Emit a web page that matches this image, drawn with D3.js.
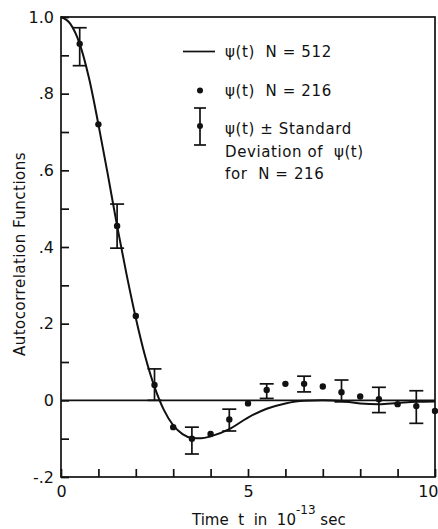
<!DOCTYPE html>
<html>
<head>
<meta charset="utf-8">
<script src="https://cdn.jsdelivr.net/npm/d3@7"></script>
<style>
  body { margin: 0; background: #fff; }
  svg text { font-family: 'DejaVu Sans', sans-serif; fill: #111; white-space: pre; }
</style>
</head>
<body>
<svg id="chart" width="438" height="529"></svg>
<script>
// psi(t) for N = 512 (solid curve)
let curveT = [0, 0.25, 0.5, 0.75, 1, 1.25, 1.5, 1.75, 2, 2.25, 2.5, 2.75, 3, 3.25, 3.5, 3.75, 4, 4.5, 5, 5.5, 6, 6.5, 7, 7.5, 8, 8.5, 9, 9.5, 10];
let curveV = [1.0, 0.982, 0.93, 0.84, 0.72, 0.59, 0.455, 0.33, 0.215, 0.115, 0.035, -0.025, -0.065, -0.088, -0.098, -0.099, -0.094, -0.075, -0.045, -0.022, -0.008, -0.001, 0, -0.002, -0.008, -0.01, -0.007, -0.004, -0.003];

// psi(t) for N = 216 (dots)
let dotT = [0.5, 1, 1.5, 2, 2.5, 3, 3.5, 4, 4.5, 5, 5.5, 6, 6.5, 7, 7.5, 8, 8.5, 9, 9.5, 10];
let dotV = [0.93, 0.72, 0.455, 0.22, 0.04, -0.07, -0.10, -0.088, -0.05, -0.008, 0.027, 0.043, 0.043, 0.036, 0.021, 0.01, 0.003, -0.01, -0.015, -0.028];

// standard deviation bars for N = 216
let errT = [0.5, 1.5, 2.5, 3.5, 4.5, 5.5, 6.5, 7.5, 8.5, 9.5];
let errLo = [0.873, 0.397, 0.0, -0.14, -0.08, 0.005, 0.022, -0.004, -0.032, -0.06];
let errHi = [0.972, 0.512, 0.082, -0.07, -0.023, 0.043, 0.063, 0.053, 0.034, 0.025];

let xTicks = d3.range(0, 11, 1);
let xLabels = {0: '0', 5: '5', 10: '10'};
let yTicks = d3.range(-2, 11, 1).map(d => d / 10);
let yLabels = {'-0.2': '-.2', '0': '0', '0.2': '.2', '0.4': '.4', '0.6': '.6', '0.8': '.8', '1': '1.0'};

let plotLeft = 61;
let plotRight = 435;
let plotTop = 17;
let plotBottom = 477;
let ink = '#111';

const svg = d3.select('#chart');

let x = d3.scaleLinear().domain([0, 10]).range([plotLeft, plotRight]);
let y = d3.scaleLinear().domain([-0.2, 1.0]).range([plotBottom, plotTop]);

// frame
svg.append('rect')
  .attr('x', plotLeft)
  .attr('y', plotTop)
  .attr('width', plotRight - plotLeft)
  .attr('height', plotBottom - plotTop)
  .attr('fill', 'none')
  .attr('stroke', ink)
  .attr('stroke-width', 1.7);

let xAxis = d3.axisBottom(x)
  .tickValues(xTicks)
  .tickSizeInner(-8)
  .tickSizeOuter(0)
  .tickPadding(9)
  .tickFormat(d => xLabels[d] || '');

let gx = svg.append('g')
  .attr('transform', 'translate(0,' + plotBottom + ')')
  .call(xAxis);

let yAxis = d3.axisLeft(y)
  .tickValues(yTicks)
  .tickSizeInner(-8)
  .tickSizeOuter(0)
  .tickPadding(7)
  .tickFormat(d => yLabels[String(+d.toFixed(1))] || '');

let gy = svg.append('g')
  .attr('transform', 'translate(' + plotLeft + ',0)')
  .call(yAxis);

[gx, gy].forEach(g => {
  g.select('.domain').remove();
  g.selectAll('line').attr('stroke', ink).attr('stroke-width', 1.7);
  g.selectAll('text')
    .style('font-family', "'DejaVu Sans', sans-serif")
    .style('font-size', '16px')
    .attr('fill', ink);
});
// last x label sits on the page edge, keep it inside
gx.selectAll('.tick text')
  .filter(d => d === 10)
  .attr('text-anchor', 'end')
  .attr('x', 3);

// zero line
svg.append('line')
  .attr('x1', x(0))
  .attr('x2', x(10))
  .attr('y1', y(0))
  .attr('y2', y(0))
  .attr('stroke', ink)
  .attr('stroke-width', 1.7);

// N = 512 curve
let line = d3.line()
  .x((d, i) => x(curveT[i]))
  .y(d => y(d))
  .curve(d3.curveMonotoneX);

svg.append('path')
  .attr('d', line(curveV))
  .attr('fill', 'none')
  .attr('stroke', ink)
  .attr('stroke-width', 2);

// error bars
let capW = 7;
let bars = svg.append('g');
errT.forEach((t, i) => {
  let cx = x(t);
  bars.append('line')
    .attr('x1', cx).attr('x2', cx)
    .attr('y1', y(errLo[i])).attr('y2', y(errHi[i]))
    .attr('stroke', ink).attr('stroke-width', 1.7);
  [errLo[i], errHi[i]].forEach(v => {
    bars.append('line')
      .attr('x1', cx - capW).attr('x2', cx + capW)
      .attr('y1', y(v)).attr('y2', y(v))
      .attr('stroke', ink).attr('stroke-width', 1.7);
  });
});

// N = 216 dots
svg.append('g')
  .selectAll('circle')
  .data(dotV)
  .enter()
  .append('circle')
  .attr('cx', (d, i) => x(dotT[i]))
  .attr('cy', d => y(d))
  .attr('r', 3.2)
  .attr('fill', ink);

// legend
let lg = svg.append('g').style('font-size', '15px').style('letter-spacing', '0.6px');
lg.append('line')
  .attr('x1', 183).attr('x2', 215)
  .attr('y1', 51.5).attr('y2', 51.5)
  .attr('stroke', ink).attr('stroke-width', 1.7);
lg.append('text').attr('x', 225).attr('y', 57).text('ψ(t)  N = 512');

lg.append('circle').attr('cx', 200).attr('cy', 90.5).attr('r', 3).attr('fill', ink);
lg.append('text').attr('x', 225).attr('y', 96).text('ψ(t)  N = 216');

lg.append('line').attr('x1', 200).attr('x2', 200).attr('y1', 108).attr('y2', 145)
  .attr('stroke', ink).attr('stroke-width', 1.7);
lg.append('line').attr('x1', 194).attr('x2', 206).attr('y1', 108).attr('y2', 108)
  .attr('stroke', ink).attr('stroke-width', 1.7);
lg.append('line').attr('x1', 194).attr('x2', 206).attr('y1', 145).attr('y2', 145)
  .attr('stroke', ink).attr('stroke-width', 1.7);
lg.append('circle').attr('cx', 200).attr('cy', 126).attr('r', 3).attr('fill', ink);
lg.append('text').attr('x', 225).attr('y', 134).text('ψ(t) ± Standard');
lg.append('text').attr('x', 225).attr('y', 157).text('Deviation of  ψ(t)');
lg.append('text').attr('x', 225).attr('y', 179).text('for  N = 216');

// axis titles
svg.append('text')
  .attr('transform', 'translate(25,254) rotate(-90)')
  .attr('text-anchor', 'middle')
  .style('font-size', '15px')
  .style('letter-spacing', '0.5px')
  .text('Autocorrelation Functions');

let xt = svg.append('text')
  .attr('x', 192)
  .attr('y', 525)
  .style('font-size', '15px');
xt.append('tspan').text('Time  t  in  10');
xt.append('tspan').attr('dy', -11).style('font-size', '12px').text('-13');
xt.append('tspan').attr('dy', 11).text(' sec');
</script>
</body>
</html>
